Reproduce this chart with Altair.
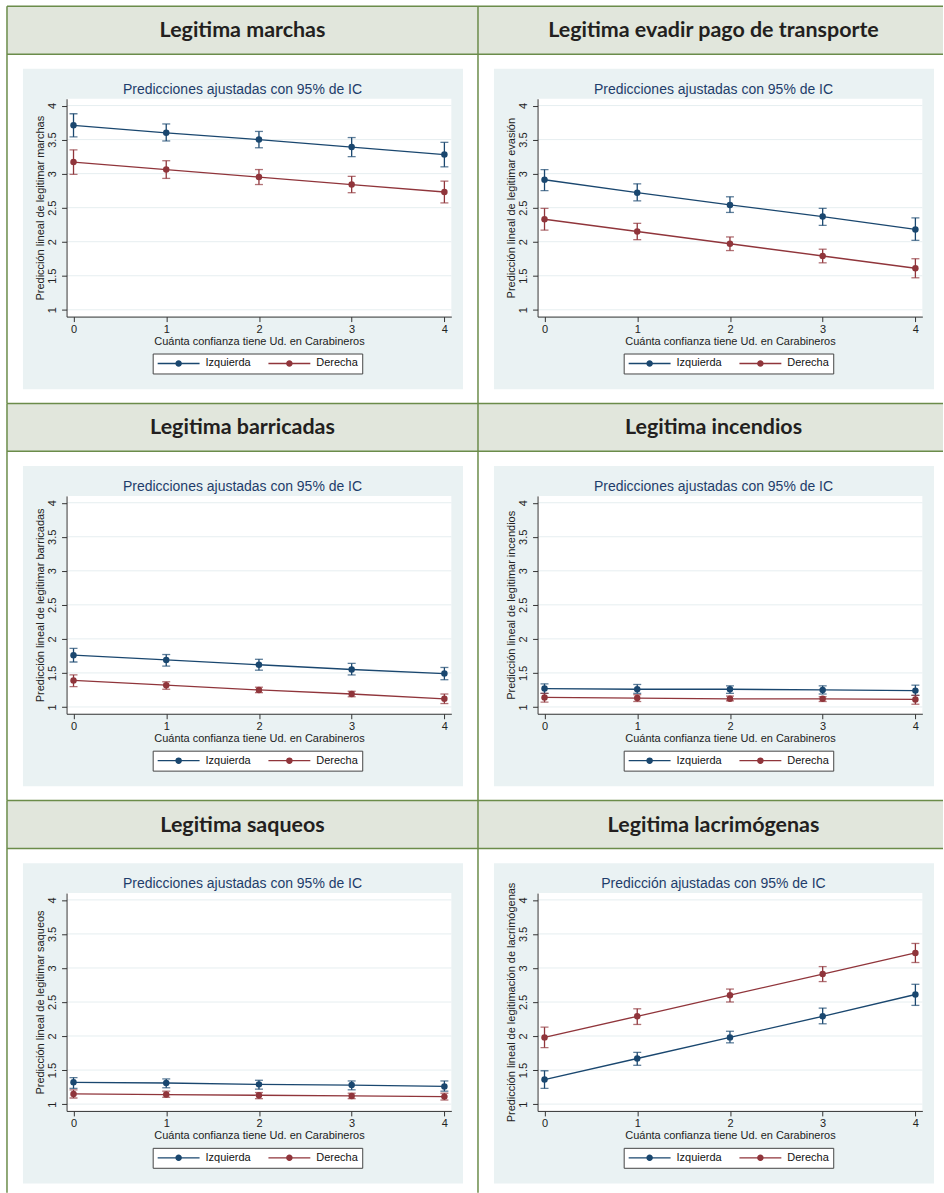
import altair as alt
import pandas as pd

# ---------------- data ----------------
CONFIANZA = [0, 1, 2, 3, 4]
GRUPOS = ["Izquierda", "Derecha"]
COLORES = ["#1a476f", "#90353b"]

ENCABEZADOS = [
    "Legitima marchas",
    "Legitima evadir pago de transporte",
    "Legitima barricadas",
    "Legitima incendios",
    "Legitima saqueos",
    "Legitima lacrimógenas",
]
SUBTITULOS = ["Predicciones ajustadas con 95% de IC"] * 5 + ["Predicción ajustadas con 95% de IC"]
TITULOS_Y = [
    "Predicción lineal de legitimar marchas",
    "Predicción lineal de legitimar evasión",
    "Predicción lineal de legitimar barricadas",
    "Predicción lineal de legitimar incendios",
    "Predicción lineal de legitimar saqueos",
    "Predicción lineal de legitimación de lacrimógenas",
]
TITULO_X = "Cuánta confianza tiene Ud. en Carabineros"
MARCAS_Y = [1, 1.5, 2, 2.5, 3, 3.5, 4]

MARCHAS_IZQ = [3.71, 3.60, 3.50, 3.39, 3.28]
MARCHAS_IZQ_LO = [3.54, 3.48, 3.38, 3.25, 3.10]
MARCHAS_IZQ_HI = [3.88, 3.73, 3.62, 3.53, 3.46]
MARCHAS_DER = [3.17, 3.06, 2.95, 2.84, 2.73]
MARCHAS_DER_LO = [2.99, 2.93, 2.84, 2.72, 2.57]
MARCHAS_DER_HI = [3.35, 3.19, 3.06, 2.96, 2.89]

EVASION_IZQ = [2.91, 2.72, 2.54, 2.37, 2.18]
EVASION_IZQ_LO = [2.75, 2.60, 2.43, 2.24, 2.02]
EVASION_IZQ_HI = [3.06, 2.85, 2.66, 2.49, 2.35]
EVASION_DER = [2.33, 2.15, 1.97, 1.79, 1.61]
EVASION_DER_LO = [2.17, 2.03, 1.87, 1.69, 1.47]
EVASION_DER_HI = [2.49, 2.27, 2.07, 1.89, 1.75]

BARRICADAS_IZQ = [1.76, 1.69, 1.62, 1.55, 1.49]
BARRICADAS_IZQ_LO = [1.66, 1.60, 1.54, 1.47, 1.40]
BARRICADAS_IZQ_HI = [1.86, 1.77, 1.70, 1.64, 1.58]
BARRICADAS_DER = [1.39, 1.32, 1.25, 1.19, 1.12]
BARRICADAS_DER_LO = [1.30, 1.26, 1.21, 1.15, 1.05]
BARRICADAS_DER_HI = [1.47, 1.37, 1.29, 1.23, 1.19]

INCENDIOS_IZQ = [1.27, 1.26, 1.26, 1.25, 1.24]
INCENDIOS_IZQ_LO = [1.20, 1.20, 1.20, 1.19, 1.17]
INCENDIOS_IZQ_HI = [1.34, 1.33, 1.31, 1.31, 1.32]
INCENDIOS_DER = [1.14, 1.13, 1.12, 1.12, 1.11]
INCENDIOS_DER_LO = [1.07, 1.08, 1.09, 1.08, 1.04]
INCENDIOS_DER_HI = [1.20, 1.18, 1.16, 1.15, 1.17]

SAQUEOS_IZQ = [1.32, 1.31, 1.29, 1.28, 1.26]
SAQUEOS_IZQ_LO = [1.23, 1.24, 1.22, 1.21, 1.19]
SAQUEOS_IZQ_HI = [1.39, 1.37, 1.35, 1.34, 1.34]
SAQUEOS_DER = [1.15, 1.14, 1.13, 1.12, 1.11]
SAQUEOS_DER_LO = [1.09, 1.10, 1.08, 1.08, 1.06]
SAQUEOS_DER_HI = [1.21, 1.19, 1.17, 1.16, 1.16]

LACRIMO_IZQ = [1.36, 1.67, 1.98, 2.29, 2.61]
LACRIMO_IZQ_LO = [1.23, 1.57, 1.90, 2.18, 2.45]
LACRIMO_IZQ_HI = [1.49, 1.76, 2.07, 2.41, 2.76]
LACRIMO_DER = [1.98, 2.29, 2.60, 2.91, 3.22]
LACRIMO_DER_LO = [1.83, 2.17, 2.50, 2.80, 3.08]
LACRIMO_DER_HI = [2.13, 2.40, 2.69, 3.02, 3.36]

PANELES = [
    (MARCHAS_IZQ, MARCHAS_IZQ_LO, MARCHAS_IZQ_HI, MARCHAS_DER, MARCHAS_DER_LO, MARCHAS_DER_HI),
    (EVASION_IZQ, EVASION_IZQ_LO, EVASION_IZQ_HI, EVASION_DER, EVASION_DER_LO, EVASION_DER_HI),
    (BARRICADAS_IZQ, BARRICADAS_IZQ_LO, BARRICADAS_IZQ_HI, BARRICADAS_DER, BARRICADAS_DER_LO, BARRICADAS_DER_HI),
    (INCENDIOS_IZQ, INCENDIOS_IZQ_LO, INCENDIOS_IZQ_HI, INCENDIOS_DER, INCENDIOS_DER_LO, INCENDIOS_DER_HI),
    (SAQUEOS_IZQ, SAQUEOS_IZQ_LO, SAQUEOS_IZQ_HI, SAQUEOS_DER, SAQUEOS_DER_LO, SAQUEOS_DER_HI),
    (LACRIMO_IZQ, LACRIMO_IZQ_LO, LACRIMO_IZQ_HI, LACRIMO_DER, LACRIMO_DER_LO, LACRIMO_DER_HI),
]

# ---------------- styles / layout ----------------
GREEN = "#6b8c4a"
HEADER_FILL = "#e1e6dc"
STATA_BG = "#eaf2f3"
GRID = "#e6eef0"
AXIS_COL = "#333333"
TXT = "#222222"
TITLE_COL = "#1e3d6b"
FONT = "Liberation Sans"

HEAD_H = 48
PLOT_X0, PLOT_X1 = 59.7, 445.3
PLOT_Y0, PLOT_Y1 = 92.7, 311
BOX_X0, BOX_X1, BOX_Y0, BOX_Y1 = 16, 457, 62.7, 383.7
CENTER_X = 236

rings = "".join(
    f"M{r},0A{r},{r},0,1,1,{-r},0A{r},{r},0,1,1,{r},0"
    for r in [0.125, 0.1, 0.075, 0.05, 0.025, 0.008]
)
LEGEND_SYMBOL = "M-1,0L1,0" + rings


def make_cell(i, W, H):
    izq, izq_lo, izq_hi, der, der_lo, der_hi = PANELES[i]
    df = pd.DataFrame({
        "x": CONFIANZA * 2,
        "grupo": [GRUPOS[0]] * 5 + [GRUPOS[1]] * 5,
        "est": izq + der,
        "lo": izq_lo + der_lo,
        "hi": izq_hi + der_hi,
    })
    one = pd.DataFrame({"k": [0]})
    xs = alt.Scale(domain=[-0.075, 4.075], range=[PLOT_X0, PLOT_X1], nice=False, zero=False)
    ys = alt.Scale(domain=[0.9, 4.1], range=[PLOT_Y1, PLOT_Y0], nice=False, zero=False)
    cs = alt.Scale(domain=GRUPOS, range=COLORES)

    x_axis = alt.Axis(
        values=CONFIANZA, format="d", title=TITULO_X, orient="bottom", zindex=2,
        offset=-(H - PLOT_Y1), grid=False, domainColor=AXIS_COL, tickColor=AXIS_COL,
        tickSize=5, labelFont=FONT, labelFontSize=11, labelColor=TXT, labelPadding=2,
        labelFlush=False, labelOverlap=False,
        titleFont=FONT, titleFontSize=11, titleFontWeight="normal", titleColor=TXT,
        titlePadding=1)
    y_axis = alt.Axis(
        values=MARCAS_Y, format="~g", title=TITULOS_Y[i], orient="left", zindex=2,
        offset=-PLOT_X0, grid=False, domainColor=AXIS_COL, tickColor=AXIS_COL,
        tickSize=5, labelAngle=270, labelFont=FONT, labelFontSize=11, labelColor=TXT,
        labelPadding=4, labelFlush=False, labelOverlap=False,
        titleFont=FONT, titleFontSize=11, titleFontWeight="normal", titleColor=TXT,
        titlePadding=1)
    legend = alt.Legend(
        orient="none", legendX=146, legendY=348, direction="horizontal", title=None,
        fillColor="white", strokeColor="#444444", padding=4, zindex=2,
        symbolType=LEGEND_SYMBOL, symbolSize=1764, symbolStrokeWidth=1.3,
        symbolOffset=0, labelOffset=5, columnPadding=16, clipHeight=12,
        symbolOpacity=1,
        labelFont=FONT, labelFontSize=11, labelColor="#111111")

    X = alt.X("x:Q", scale=xs, axis=x_axis)
    C = alt.Color("grupo:N", scale=cs, legend=legend)

    header = alt.Chart(one).mark_rect(fill=HEADER_FILL).encode(
        x=alt.value(0), x2=alt.value(W), y=alt.value(0), y2=alt.value(HEAD_H))
    b_top = alt.Chart(one).mark_rule(color=GREEN, strokeWidth=1.5).encode(
        x=alt.value(0), x2=alt.value(W), y=alt.value(0))
    b_mid = alt.Chart(one).mark_rule(color=GREEN, strokeWidth=1.5).encode(
        x=alt.value(0), x2=alt.value(W), y=alt.value(HEAD_H))
    b_left = alt.Chart(one).mark_rule(color=GREEN, strokeWidth=1.5).encode(
        x=alt.value(0), y=alt.value(0), y2=alt.value(H))
    head_txt = alt.Chart(one).mark_text(
        text=ENCABEZADOS[i], font="Lato", fontWeight="bold", fontSize=21.5,
        color="#231f20", align="center", baseline="middle").encode(
        x=alt.value(CENTER_X), y=alt.value(25))

    bg = alt.Chart(one).mark_rect(fill=STATA_BG).encode(
        x=alt.value(BOX_X0), x2=alt.value(BOX_X1), y=alt.value(BOX_Y0), y2=alt.value(BOX_Y1))
    plot_bg = alt.Chart(one).mark_rect(fill="white").encode(
        x=alt.value(PLOT_X0), x2=alt.value(PLOT_X1), y=alt.value(PLOT_Y0), y2=alt.value(PLOT_Y1))
    grid = alt.Chart(pd.DataFrame({"g": MARCAS_Y})).mark_rule(color=GRID, strokeWidth=1).encode(
        y=alt.Y("g:Q", scale=ys, axis=y_axis), x=alt.value(PLOT_X0), x2=alt.value(PLOT_X1))
    sub = alt.Chart(one).mark_text(
        text=SUBTITULOS[i], font=FONT, fontSize=14, color=TITLE_COL,
        align="center", baseline="middle").encode(x=alt.value(CENTER_X), y=alt.value(83.5))

    ci = alt.Chart(df).mark_rule(strokeWidth=1.3).encode(
        x=X, y=alt.Y("lo:Q", scale=ys, axis=y_axis), y2="hi:Q", color=C)
    caps = alt.Chart(df).transform_fold(["lo", "hi"], as_=["lim", "v"]).mark_tick(
        orient="horizontal", size=8, thickness=1.3).encode(
        x=X, y=alt.Y("v:Q", scale=ys, axis=y_axis), color=C)
    line = alt.Chart(df).mark_line(strokeWidth=1.3).encode(
        x=X, y=alt.Y("est:Q", scale=ys, axis=y_axis), color=C)
    pts = alt.Chart(df).mark_circle(size=42, opacity=1).encode(
        x=X, y=alt.Y("est:Q", scale=ys, axis=y_axis), color=C)

    return alt.layer(header, b_top, b_mid, b_left, head_txt, bg, plot_bg, grid, sub,
                     ci, caps, line, pts).properties(width=W, height=H)


ROW_H = [398, 398, 393]
cells = []
for r in range(3):
    cells.append(make_cell(2 * r, 472, ROW_H[r]))
    cells.append(make_cell(2 * r + 1, 466, ROW_H[r]))

chart = (
    alt.concat(*cells, columns=2, spacing=0, bounds="flush", align="each")
    .resolve_scale(color="independent", x="independent", y="independent")
    .resolve_legend(color="independent")
    .properties(padding={"left": 6, "top": 4, "right": 0, "bottom": 0}, background="white")
    .configure_view(stroke=None)
)

chart.save("out.html", embed_options={"renderer": "svg", "actions": False})
